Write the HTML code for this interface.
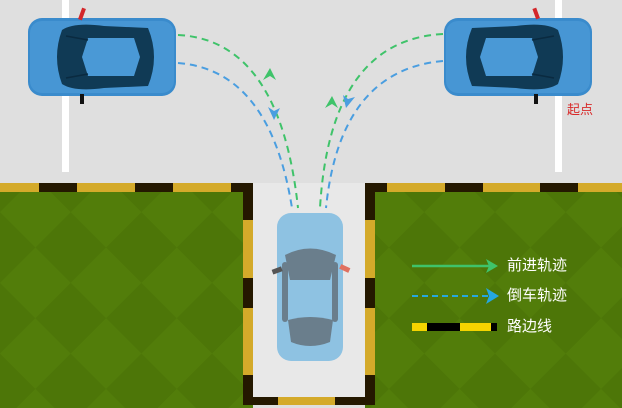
<!DOCTYPE html>
<html><head><meta charset="utf-8"><style>
html,body{margin:0;padding:0;width:622px;height:408px;overflow:hidden;background:#dfdfdf}
.t{position:absolute;font-family:"Liberation Sans","Noto Sans CJK SC",sans-serif;font-size:15px;color:#fff;line-height:16px}
</style></head><body>
<svg width="622" height="408" style="position:absolute;left:0;top:0">
<defs>
<pattern id="gp" width="100" height="100" patternUnits="userSpaceOnUse" patternTransform="rotate(45)">
<rect width="100" height="100" fill="#527d0a"/><rect width="50" height="50" fill="#4d7608"/><rect x="50" y="50" width="50" height="50" fill="#4d7608"/>
</pattern>
<g id="car">
<rect x="0" y="0" width="148" height="78" rx="14" fill="#3a8bcc"/>
<rect x="2" y="3" width="144" height="72" rx="12" fill="#4796d4"/>
<path d="M34 12 Q46 4 76 8 L120 10 Q132 39 120 68 L76 70 Q46 74 34 66 Q24 39 34 12Z" fill="#103a55"/>
<path d="M60 20 L106 20 L112 39 L106 58 L60 58 L54 39Z" fill="#4a99d6"/>
<line x1="38" y1="18" x2="60" y2="22" stroke="#0a2a40" stroke-width="1.5"/>
<line x1="38" y1="60" x2="60" y2="56" stroke="#0a2a40" stroke-width="1.5"/>
</g>
</defs>
<rect x="62" y="0" width="7" height="172" fill="#fff"/>
<rect x="555" y="0" width="7" height="172" fill="#fff"/>
<rect x="0" y="183" width="253" height="225" fill="url(#gp)"/>
<rect x="365" y="183" width="257" height="225" fill="url(#gp)"/>
<rect x="253" y="183" width="112" height="214" fill="#e8e8e8"/>
<g>
<rect x="0" y="183" width="253" height="9" fill="#241800"/>
<rect x="0" y="183" width="39" height="9" fill="#d4aa2a"/>
<rect x="77" y="183" width="58" height="9" fill="#d4aa2a"/>
<rect x="173" y="183" width="58" height="9" fill="#d4aa2a"/>
<rect x="243" y="183" width="10" height="222" fill="#241800"/>
<rect x="243" y="220" width="10" height="58" fill="#d4aa2a"/>
<rect x="243" y="308" width="10" height="67" fill="#d4aa2a"/>
<rect x="243" y="397" width="132" height="8" fill="#241800"/>
<rect x="278" y="397" width="57" height="8" fill="#d4aa2a"/>
<rect x="365" y="183" width="257" height="9" fill="#241800"/>
<rect x="365" y="183" width="10" height="222" fill="#241800"/>
<rect x="365" y="220" width="10" height="58" fill="#d4aa2a"/>
<rect x="365" y="308" width="10" height="67" fill="#d4aa2a"/>
<rect x="387" y="183" width="58" height="9" fill="#d4aa2a"/>
<rect x="483" y="183" width="57" height="9" fill="#d4aa2a"/>
<rect x="578" y="183" width="44" height="9" fill="#d4aa2a"/>
</g>
<use href="#car" x="28" y="18"/>
<rect x="80" y="8" width="4" height="12" fill="#d3262a" transform="rotate(20 82 14)"/>
<rect x="80" y="94" width="4" height="10" fill="#111"/>
<g transform="translate(592,96) rotate(180)"><use href="#car"/></g>
<rect x="534" y="8" width="4" height="11" fill="#d3262a" transform="rotate(-20 536 13)"/>
<rect x="534" y="94" width="4" height="10" fill="#111"/>
<rect x="277" y="213" width="66" height="148" rx="14" fill="#8ec2e2"/>
<path d="M285 255 Q310 242 336 255 L330 280 L290 280Z" fill="#6a7e8c"/>
<path d="M288 320 Q310 314 333 320 L330 342 Q310 350 291 342Z" fill="#6a7e8c"/>
<rect x="282" y="262" width="6" height="60" rx="3" fill="#6a7e8c"/>
<rect x="332" y="262" width="6" height="60" rx="3" fill="#6a7e8c"/>
<rect x="272" y="268" width="10" height="5" fill="#555" transform="rotate(-20 277 270)"/>
<rect x="340" y="266" width="10" height="5" fill="#e07060" transform="rotate(25 345 268)"/>
<g fill="none" stroke-width="2" stroke-dasharray="7,5">
<path d="M178 35 Q280 40 298 208" stroke="#3fc36a"/>
<path d="M178 63 Q270 70 292 208" stroke="#4a9ee0"/>
<path d="M443 34 Q330 40 320 208" stroke="#3fc36a"/>
<path d="M443 61 Q340 70 326 208" stroke="#4a9ee0"/>
</g>
<path d="M270 68 L263 80 L270 76 L276 80Z" fill="#3fc36a"/>
<path d="M274 120 L268 107 L274 111 L280 108Z" fill="#4a9ee0"/>
<path d="M332 96 L325 108 L332 104 L338 108Z" fill="#3fc36a"/>
<path d="M346 108 L343 95 L348 99 L355 97Z" fill="#4a9ee0"/>
<line x1="412" y1="266" x2="490" y2="266" stroke="#3fc36a" stroke-width="2.5"/>
<path d="M498 266 L486 259 L489 266 L486 273Z" fill="#3fc36a"/>
<line x1="412" y1="296" x2="490" y2="296" stroke="#25a8e0" stroke-width="2" stroke-dasharray="6,4"/>
<path d="M499 296 L486 288 L489 296 L486 304Z" fill="#25a8e0"/>
<rect x="412" y="323" width="85" height="8" fill="#000"/>
<rect x="412" y="323" width="15" height="8" fill="#f5d400"/>
<rect x="460" y="323" width="31" height="8" fill="#f5d400"/>
</svg>
<div class="t" style="left:507px;top:258px">前进轨迹</div>
<div class="t" style="left:507px;top:288px">倒车轨迹</div>
<div class="t" style="left:507px;top:319px">路边线</div>
<div class="t" style="left:567px;top:102px;color:#d82a2a;font-size:13px">起点</div>
</body></html>
